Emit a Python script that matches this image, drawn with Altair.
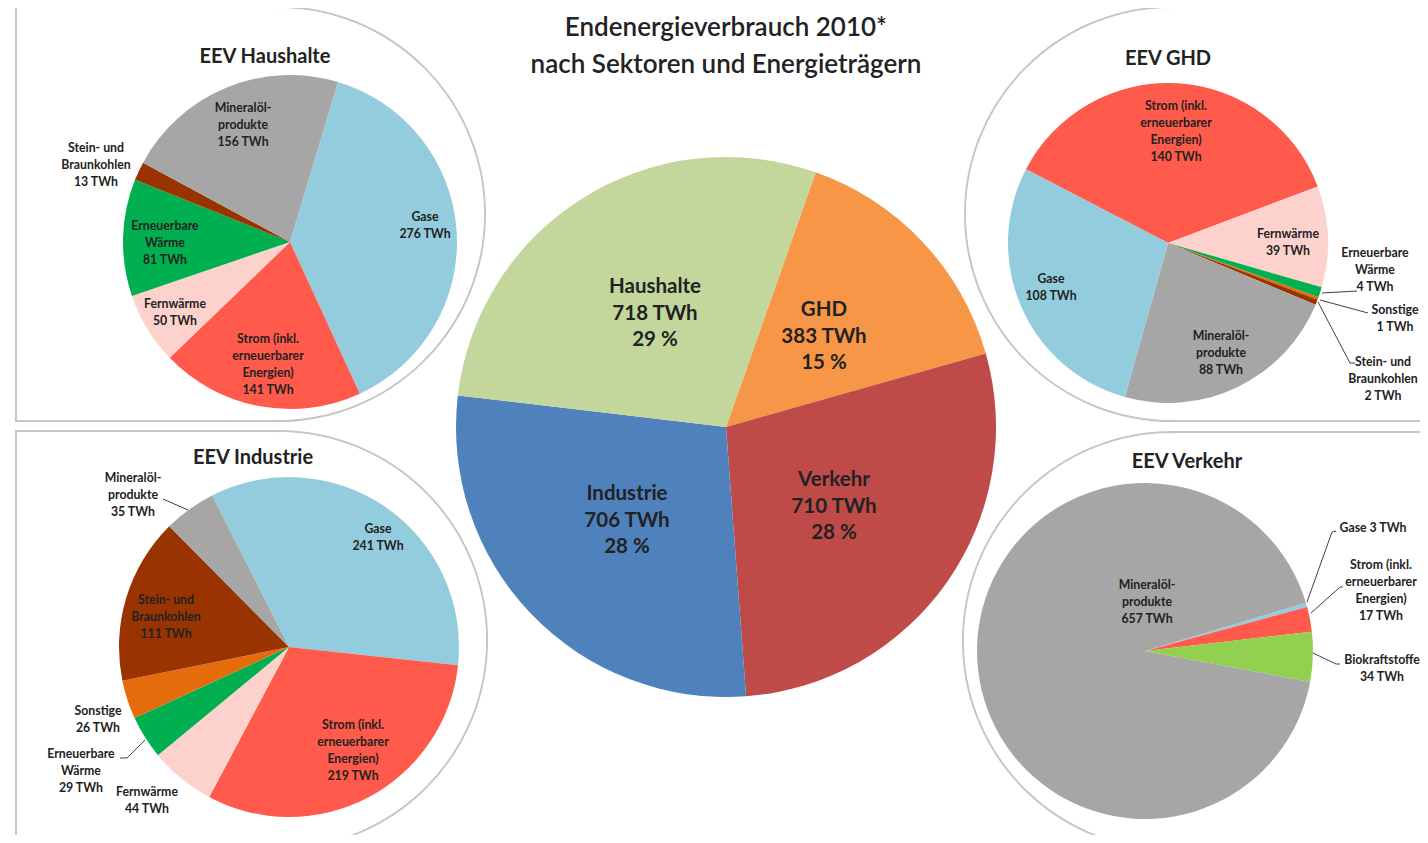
import math
import altair as alt
import pandas as pd

OFF = 8          # page margin
W, H = 1412, 827 # drawing area
FONT = "Lato"
TXT = "#222222"

# ---------------- data ----------------
# main pie (sectors)
sectors = ["GHD", "Verkehr", "Industrie", "Haushalte"]
sector_twh = [383, 710, 706, 718]
sector_colors = ["#f79646", "#be4b48", "#4f81bd", "#c3d69b"]

# energy carriers
carrier_keys = ["gas", "strom", "fern", "ew", "sonst", "kohle", "oel", "bio"]
carrier_names = ["Gase", "Strom (inkl.\nerneuerbarer\nEnergien)", "Fernwärme",
                 "Erneuerbare\nWärme", "Sonstige", "Stein- und\nBraunkohlen",
                 "Mineralöl-\nprodukte", "Biokraftstoffe"]
carrier_colors = ["#93cddd", "#ff5a4b", "#fdd2cd", "#00b050", "#e46c0a",
                  "#993300", "#a6a6a6", "#92d050"]

# sector pies: carriers in drawing order (clockwise) and TWh
hh_keys = ["gas", "strom", "fern", "ew", "kohle", "oel"]
hh_twh = [276, 141, 50, 81, 13, 156]

ghd_keys = ["strom", "fern", "ew", "sonst", "kohle", "oel", "gas"]
ghd_twh = [140, 39, 4, 1, 2, 88, 108]

ind_keys = ["gas", "strom", "fern", "ew", "sonst", "kohle", "oel"]
ind_twh = [241, 219, 44, 29, 26, 111, 35]

vk_keys = ["gas", "strom", "bio", "oel"]
vk_twh = [3, 17, 34, 657]

# ---------------- layout (reference pixel coords) ----------------
CNAME = dict(zip(carrier_keys, carrier_names))
CCOL = dict(zip(carrier_keys, carrier_colors))


def P(x, y):
    return (x - OFF, y - OFF)


layers = []

# panels: circle + rectangle unions with a grey outline
panels = [
    dict(c=(278, 214), r=207, rect=(16, 7, 278, 421)),
    dict(c=(1172, 214), r=207, rect=(1172, 7, 1440, 421)),
    dict(c=(278, 640), r=209, rect=(16, 431, 278, 860)),
    dict(c=(1172, 641), r=209, rect=(1172, 432, 1440, 860)),
]
BORDER = "#c6c6c6"
dummy = alt.Data(values=[{"a": 1}])


def circle(cx, cy, r, stroke):
    kw = dict(radius=r, theta=0, theta2=2 * math.pi, fill="white")
    if stroke:
        kw.update(stroke=BORDER, strokeWidth=2)
    x, y = P(cx, cy)
    return alt.Chart(dummy).mark_arc(**kw).encode(x=alt.value(x), y=alt.value(y))


def rect(x1, y1, x2, y2, stroke, inset=0):
    kw = dict(fill="white")
    if stroke:
        kw.update(stroke=BORDER, strokeWidth=2)
    a, b = P(x1 + inset, y1 + inset)
    c, d = P(x2 - inset, y2 - inset)
    return alt.Chart(dummy).mark_rect(**kw).encode(
        x=alt.value(a), x2=alt.value(c), y=alt.value(b), y2=alt.value(d))


for p in panels:
    layers.append(circle(*p["c"], p["r"], True))
    layers.append(rect(*p["rect"], True))
for p in panels:
    layers.append(circle(*p["c"], p["r"] - 1.2, False))
    layers.append(rect(*p["rect"], False, inset=1.2))


def pie(keys_colors, values, cx, cy, r, start_deg):
    cols = [c for _, c in keys_colors]
    df = pd.DataFrame({"value": values, "order": list(range(len(values))), "color": cols})
    s = math.radians(start_deg)
    x, y = P(cx, cy)
    return alt.Chart(df).mark_arc(outerRadius=r).encode(
        x=alt.value(x), y=alt.value(y),
        theta=alt.Theta("value:Q", stack=True,
                        scale=alt.Scale(range=[s, s + 2 * math.pi])),
        order=alt.Order("order:Q"),
        color=alt.Color("color:N", scale=None),
    )


def labels(texts, positions, size, lh, weight="bold"):
    # positions give the centre of the FIRST text line
    xs, ys = zip(*[P(*p) for p in positions])
    df = pd.DataFrame({"t": texts, "x": xs, "y": ys})
    return alt.Chart(df).mark_text(
        lineBreak="\n", font=FONT, fontSize=size, fontWeight=weight,
        lineHeight=lh, color=TXT, align="center", baseline="middle"
    ).encode(
        x=alt.X("x:Q", scale=None, axis=None),
        y=alt.Y("y:Q", scale=None, axis=None),
        text="t:N",
    )


def leaders(lines):
    rows = []
    for i, pts in enumerate(lines):
        for j, (x, y) in enumerate(pts):
            px, py = P(x, y)
            rows.append({"id": i, "k": j, "x": px, "y": py})
    return alt.Chart(pd.DataFrame(rows)).mark_line(color="#404040", strokeWidth=1).encode(
        x=alt.X("x:Q", scale=None, axis=None),
        y=alt.Y("y:Q", scale=None, axis=None),
        detail="id:N", order="k:Q")


# ---- main pie ----
layers.append(pie(list(zip(sectors, sector_colors)), sector_twh, 726, 427, 270, 19.4))
total = sum(sector_twh)
main_txt = [f"{n}\n{v} TWh\n{round(100 * v / total)} %" for n, v in zip(sectors, sector_twh)]
main_pos = {"Haushalte": (655, 287), "GHD": (824, 310),
            "Verkehr": (834, 480), "Industrie": (627, 494)}
layers.append(labels(main_txt, [main_pos[n] for n in sectors], 20.5, 26.5))

# ---- sector pies ----
pies = [
    dict(keys=hh_keys, vals=hh_twh, c=(290, 242), r=167, start=16.7,
         title="EEV Haushalte", tpos=(265, 57),
         lab={"oel": (243, 108), "gas": (425, 217), "kohle": (96, 148),
              "ew": (165, 226), "fern": (175, 304), "strom": (268, 339)},
         lines=[]),
    dict(keys=ghd_keys, vals=ghd_twh, c=(1168, 243), r=160, start=-62.6,
         title="EEV GHD", tpos=(1168, 59),
         lab={"strom": (1176, 106), "fern": (1288, 234), "gas": (1051, 279),
              "oel": (1221, 336), "ew": (1375, 253), "sonst": (1395, 310),
              "kohle": (1383, 362)},
         lines=[[(1322, 293), (1357, 291)],
                [(1320, 300), (1368, 313)],
                [(1318, 302), (1350, 363), (1355, 363)]]),
    dict(keys=ind_keys, vals=ind_twh, c=(289, 647), r=170, start=-26.9,
         title="EEV Industrie", tpos=(253, 458),
         lab={"oel": (133, 478), "gas": (378, 529), "kohle": (166, 600),
              "sonst": (98, 711), "ew": (81, 754), "fern": (147, 792),
              "strom": (353, 725)},
         lines=[[(163, 499), (188, 510)],
                [(120, 758), (127, 758), (145, 740)]]),
    dict(keys=vk_keys, vals=vk_twh, c=(1145, 651), r=168, start=73.3,
         title="EEV Verkehr", tpos=(1187, 462),
         lab={"oel": (1147, 585), "gas": (1373, 528), "strom": (1381, 565),
              "bio": (1382, 660)},
         single_line={"gas"},
         lines=[[(1307, 602), (1332, 532), (1336, 531)],
                [(1311, 613), (1340, 587), (1343, 587)],
                [(1313, 653), (1336, 664), (1340, 664)]]),
]

for pd_ in pies:
    layers.append(pie([(k, CCOL[k]) for k in pd_["keys"]], pd_["vals"], *pd_["c"], pd_["r"], pd_["start"]))
for pd_ in pies:
    if pd_["lines"]:
        layers.append(leaders(pd_["lines"]))
    single = pd_.get("single_line", set())
    txts = [f"{CNAME[k]}{' ' if k in single else chr(10)}{v} TWh" for k, v in zip(pd_["keys"], pd_["vals"])]
    layers.append(labels(txts, [pd_["lab"][k] for k in pd_["keys"]], 12.3, 17))
    layers.append(labels([pd_["title"]], [pd_["tpos"]], 20, 24))

# main title
layers.append(labels(["Endenergieverbrauch 2010*\nnach Sektoren und Energieträgern"],
                     [(726, 28)], 26, 37, weight=600))

chart = alt.layer(*layers).resolve_scale(theta="independent").properties(
    width=W, height=H, padding=0, autosize=alt.AutoSizeParams(type="none"),
    background="white",
).configure_view(stroke=None)

chart.save("out.html", embed_options={"renderer": "svg", "actions": False})
